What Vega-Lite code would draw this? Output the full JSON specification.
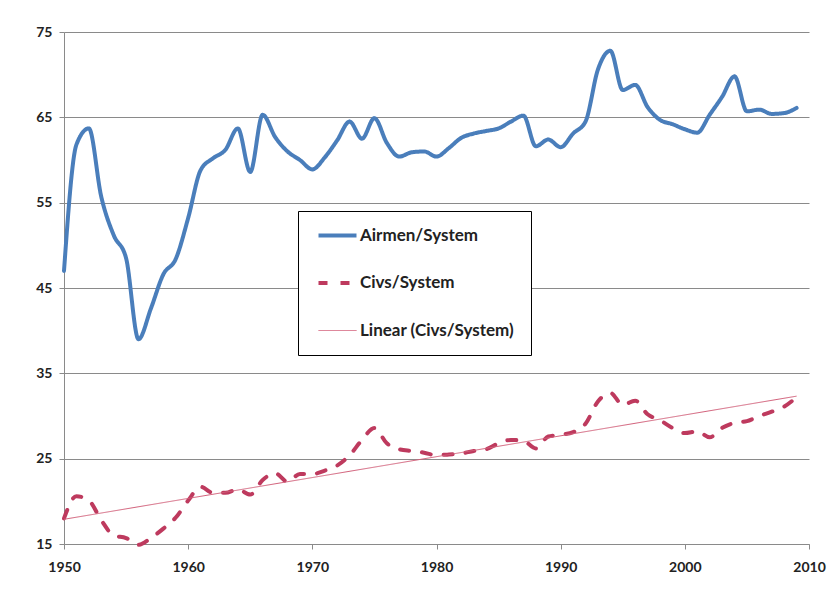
{
  "$schema": "https://vega.github.io/schema/vega-lite/v6.json",
  "width": 745,
  "height": 512,
  "autosize": {"type": "none"},
  "padding": {"left": 64, "top": 32, "right": 29, "bottom": 46},
  "background": "white",
  "config": {
    "view": {"stroke": null},
    "font": "Lato",
    "axis": {
      "labelFont": "Lato", "labelFontWeight": "bold", "labelFontSize": 14, "labelColor": "#222222",
      "domainColor": "#8a8a8a", "tickColor": "#8a8a8a", "gridColor": "#8a8a8a", "tickSize": 5
    }
  },
  "data": {"values": [
    {"year":1950,"series":"Airmen/System","value":47.0},{"year":1951,"series":"Airmen/System","value":61.8},{"year":1952,"series":"Airmen/System","value":63.7},{"year":1953,"series":"Airmen/System","value":55.7},{"year":1954,"series":"Airmen/System","value":51.2},{"year":1955,"series":"Airmen/System","value":48.5},{"year":1956,"series":"Airmen/System","value":39.0},{"year":1957,"series":"Airmen/System","value":42.6},{"year":1958,"series":"Airmen/System","value":46.6},{"year":1959,"series":"Airmen/System","value":48.4},
    {"year":1960,"series":"Airmen/System","value":53.2},{"year":1961,"series":"Airmen/System","value":58.8},{"year":1962,"series":"Airmen/System","value":60.2},{"year":1963,"series":"Airmen/System","value":61.2},{"year":1964,"series":"Airmen/System","value":63.7},{"year":1965,"series":"Airmen/System","value":58.6},{"year":1966,"series":"Airmen/System","value":65.3},{"year":1967,"series":"Airmen/System","value":62.7},{"year":1968,"series":"Airmen/System","value":61.0},{"year":1969,"series":"Airmen/System","value":60.0},
    {"year":1970,"series":"Airmen/System","value":58.9},{"year":1971,"series":"Airmen/System","value":60.3},{"year":1972,"series":"Airmen/System","value":62.3},{"year":1973,"series":"Airmen/System","value":64.5},{"year":1974,"series":"Airmen/System","value":62.5},{"year":1975,"series":"Airmen/System","value":64.9},{"year":1976,"series":"Airmen/System","value":62.0},{"year":1977,"series":"Airmen/System","value":60.4},{"year":1978,"series":"Airmen/System","value":60.9},{"year":1979,"series":"Airmen/System","value":61.0},
    {"year":1980,"series":"Airmen/System","value":60.4},{"year":1981,"series":"Airmen/System","value":61.4},{"year":1982,"series":"Airmen/System","value":62.6},{"year":1983,"series":"Airmen/System","value":63.1},{"year":1984,"series":"Airmen/System","value":63.4},{"year":1985,"series":"Airmen/System","value":63.7},{"year":1986,"series":"Airmen/System","value":64.5},{"year":1987,"series":"Airmen/System","value":65.2},{"year":1988,"series":"Airmen/System","value":61.6},{"year":1989,"series":"Airmen/System","value":62.4},
    {"year":1990,"series":"Airmen/System","value":61.5},{"year":1991,"series":"Airmen/System","value":63.1},{"year":1992,"series":"Airmen/System","value":64.5},{"year":1993,"series":"Airmen/System","value":70.6},{"year":1994,"series":"Airmen/System","value":72.8},{"year":1995,"series":"Airmen/System","value":68.2},{"year":1996,"series":"Airmen/System","value":68.8},{"year":1997,"series":"Airmen/System","value":66.2},{"year":1998,"series":"Airmen/System","value":64.7},{"year":1999,"series":"Airmen/System","value":64.2},
    {"year":2000,"series":"Airmen/System","value":63.6},{"year":2001,"series":"Airmen/System","value":63.2},{"year":2002,"series":"Airmen/System","value":65.3},{"year":2003,"series":"Airmen/System","value":67.4},{"year":2004,"series":"Airmen/System","value":69.8},{"year":2005,"series":"Airmen/System","value":65.7},{"year":2006,"series":"Airmen/System","value":65.9},{"year":2007,"series":"Airmen/System","value":65.4},{"year":2008,"series":"Airmen/System","value":65.5},{"year":2009,"series":"Airmen/System","value":66.1},
    {"year":1950,"series":"Civs/System","value":18.0},{"year":1951,"series":"Civs/System","value":20.6},{"year":1952,"series":"Civs/System","value":20.1},{"year":1953,"series":"Civs/System","value":17.8},{"year":1954,"series":"Civs/System","value":16.0},{"year":1955,"series":"Civs/System","value":15.7},{"year":1956,"series":"Civs/System","value":14.9},{"year":1957,"series":"Civs/System","value":15.7},{"year":1958,"series":"Civs/System","value":16.8},{"year":1959,"series":"Civs/System","value":18.1},
    {"year":1960,"series":"Civs/System","value":20.1},{"year":1961,"series":"Civs/System","value":21.7},{"year":1962,"series":"Civs/System","value":21.0},{"year":1963,"series":"Civs/System","value":21.0},{"year":1964,"series":"Civs/System","value":21.4},{"year":1965,"series":"Civs/System","value":20.8},{"year":1966,"series":"Civs/System","value":22.5},{"year":1967,"series":"Civs/System","value":23.3},{"year":1968,"series":"Civs/System","value":22.3},{"year":1969,"series":"Civs/System","value":23.2},
    {"year":1970,"series":"Civs/System","value":23.2},{"year":1971,"series":"Civs/System","value":23.6},{"year":1972,"series":"Civs/System","value":24.2},{"year":1973,"series":"Civs/System","value":25.4},{"year":1974,"series":"Civs/System","value":27.2},{"year":1975,"series":"Civs/System","value":28.6},{"year":1976,"series":"Civs/System","value":26.8},{"year":1977,"series":"Civs/System","value":26.1},{"year":1978,"series":"Civs/System","value":25.9},{"year":1979,"series":"Civs/System","value":25.7},
    {"year":1980,"series":"Civs/System","value":25.4},{"year":1981,"series":"Civs/System","value":25.5},{"year":1982,"series":"Civs/System","value":25.6},{"year":1983,"series":"Civs/System","value":25.9},{"year":1984,"series":"Civs/System","value":26.1},{"year":1985,"series":"Civs/System","value":26.8},{"year":1986,"series":"Civs/System","value":27.2},{"year":1987,"series":"Civs/System","value":27.1},{"year":1988,"series":"Civs/System","value":26.2},{"year":1989,"series":"Civs/System","value":27.6},
    {"year":1990,"series":"Civs/System","value":27.8},{"year":1991,"series":"Civs/System","value":28.1},{"year":1992,"series":"Civs/System","value":29.1},{"year":1993,"series":"Civs/System","value":31.7},{"year":1994,"series":"Civs/System","value":32.7},{"year":1995,"series":"Civs/System","value":31.3},{"year":1996,"series":"Civs/System","value":31.8},{"year":1997,"series":"Civs/System","value":30.2},{"year":1998,"series":"Civs/System","value":29.5},{"year":1999,"series":"Civs/System","value":28.6},
    {"year":2000,"series":"Civs/System","value":28.0},{"year":2001,"series":"Civs/System","value":28.2},{"year":2002,"series":"Civs/System","value":27.5},{"year":2003,"series":"Civs/System","value":28.6},{"year":2004,"series":"Civs/System","value":29.2},{"year":2005,"series":"Civs/System","value":29.4},{"year":2006,"series":"Civs/System","value":30.0},{"year":2007,"series":"Civs/System","value":30.5},{"year":2008,"series":"Civs/System","value":31.1},{"year":2009,"series":"Civs/System","value":32.2}
  ]},
  "encoding": {
    "x": {"field": "year", "type": "quantitative",
      "scale": {"domain": [1950, 2010], "nice": false, "zero": false},
      "axis": {"title": null, "values": [1950,1960,1970,1980,1990,2000,2010], "format": "d", "grid": false, "labelPadding": 11, "labelFlush": false}},
    "y": {"field": "value", "type": "quantitative",
      "scale": {"domain": [15, 75], "nice": false, "zero": false},
      "axis": {"title": null, "values": [15,25,35,45,55,65,75], "grid": true, "labelPadding": 7, "domain": true}}
  },
  "layer": [
    {
      "mark": {"type": "line", "interpolate": "monotone", "strokeWidth": 4, "strokeCap": "round", "strokeJoin": "round"},
      "encoding": {
        "color": {"field": "series", "type": "nominal",
          "scale": {"domain": ["Airmen/System", "Civs/System", "Linear (Civs/System)"], "range": ["#4A7EBB", "#BE3A5E", "#D2607A"]},
          "legend": {"title": null, "orient": "none", "legendX": 234, "legendY": 179,
            "strokeColor": "#000000", "fillColor": "#ffffff", "padding": 16,
            "symbolType": "stroke", "symbolSize": 1444, "symbolOffset": 15, "labelFont": "Lato", "labelFontWeight": "bold", "labelFontSize": 17, "labelColor": "#222222",
            "rowPadding": 29.5, "labelOffset": 14, "labelLimit": 400,
            "encode": {"symbols": {"update": {"strokeWidth": {"signal": "datum.value === 'Linear (Civs/System)' ? 1 : 4"}, "strokeCap": {"value": "butt"}}}}}},
        "strokeDash": {"field": "series", "type": "nominal",
          "scale": {"domain": ["Airmen/System", "Civs/System", "Linear (Civs/System)"], "range": [[1, 0], [9, 13], [1, 0]]}}
      }
    },
    {
      "transform": [
        {"filter": "datum.series === 'Civs/System'"},
        {"regression": "value", "on": "year", "method": "linear", "extent": [1950, 2009]}
      ],
      "mark": {"type": "line", "strokeWidth": 1},
      "encoding": {
        "color": {"datum": "Linear (Civs/System)", "type": "nominal"},
        "strokeDash": {"datum": "Linear (Civs/System)", "type": "nominal"}
      }
    }
  ]
}
